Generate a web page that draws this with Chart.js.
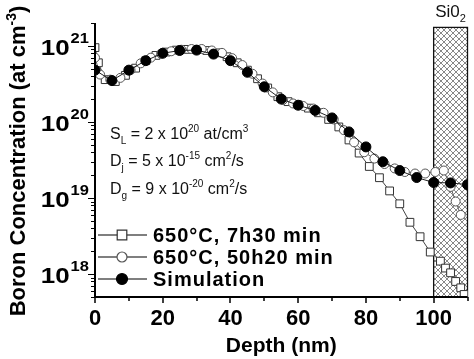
<!DOCTYPE html>
<html><head><meta charset="utf-8">
<script src="https://cdn.jsdelivr.net/npm/chart.js@4/dist/chart.umd.min.js"></script>
<style>html,body{margin:0;padding:0;background:#fff}</style>
</head><body>
<canvas id="c" width="474" height="359"></canvas>
<script>
// ---- data ----
const depthSim = [0,5,10,15,20,25,30,35,40,45,50,55,60,65,70,75,80,85,90,95,100,105,110];
const concSim  = [4.8e20,3.5e20,4.8e20,6.4e20,8.0e20,8.7e20,8.8e20,7.8e20,6.4e20,4.5e20,2.9e20,2.0e20,1.66e20,1.42e20,1.13e20,7.4e19,4.7e19,3.0e19,2.3e19,1.86e19,1.6e19,1.58e19,1.5e19];

const depth7h  = [0,1,3,6,9,12,15,18,21,24,27,30,33,36,39,42,45,48,51,54,57,60,63,66,69,72,75,78,81,84,87,90,93,96,99,102,103.5,105,106.5,108,109];
const conc7h   = [9.5e20,6.0e20,3.6e20,3.4e20,4.1e20,5.1e20,6.4e20,7.5e20,8.3e20,8.8e20,9.0e20,9.0e20,8.7e20,8.1e20,7.2e20,6.0e20,4.8e20,3.7e20,2.8e20,2.15e20,1.85e20,1.68e20,1.52e20,1.32e20,1.08e20,8.6e19,5.8e19,3.9e19,2.6e19,1.85e19,1.24e19,8.4e18,4.8e18,3.1e18,1.95e18,1.48e18,1.2e18,1.04e18,8.0e17,6.6e17,5.4e17];

const depth50h = [0,1.5,4.5,7.5,10.5,13.5,16.5,19.5,22.5,25.5,28.5,31.5,34.5,37.5,40.5,43.5,46.5,49.5,52.5,55.5,58.5,61.5,64.5,67.5,70.5,73.5,76.5,79.5,82.5,85.5,88.5,91.5,94.5,97.5,100.5,103,105,106.5,108];
const conc50h  = [7.0e20,4.2e20,3.6e20,3.8e20,4.8e20,5.9e20,7.0e20,7.9e20,8.5e20,8.9e20,9.1e20,9.1e20,8.7e20,8.1e20,6.9e20,5.6e20,4.3e20,3.2e20,2.45e20,1.95e20,1.75e20,1.62e20,1.5e20,1.32e20,1.08e20,7.8e19,5.4e19,4.0e19,3.3e19,2.8e19,2.45e19,2.2e19,2.1e19,2.1e19,2.2e19,2.3e19,1.4e19,9e18,6e18];

const xTickValues = [0,20,40,60,80,100];
const xMinorValues = [10,30,50,70,90,110];
const yDecadeExponents = [18,19,20,21];
const seriesLabels = ["650°C, 7h30 min","650°C, 50h20 min","Simulation"];
const xTitle = "Depth (nm)";
const yTitleMain = "Boron Concentration (at cm";
const yTitleSup = "-3";
const oxideFrom = 100, oxideTo = 110, oxideTop = 1.75e21;

const toPts = (xs, ys) => xs.map((x,i)=>({x, y: ys[i]}));

function richWidth(ctx, parts, size, weight, family){
  let w=0;
  for(const [t,k] of parts){
    const s = k==='n'?size:Math.round(size*0.62);
    ctx.font = `${weight} ${s}px ${family}`;
    w += ctx.measureText(t).width;
  }
  return w;
}
function drawRich(ctx, x, y, parts, size, weight, family){
  let cx=x;
  for(const [t,k] of parts){
    const s = k==='n'?size:Math.round(size*0.62);
    ctx.font = `${weight} ${s}px ${family}`;
    const dy = k==='sup'? -size*0.42 : k==='sub'? size*0.3 : 0;
    ctx.fillText(t, cx, y+dy);
    cx += ctx.measureText(t).width;
  }
  return cx;
}

const FAM = '"Liberation Sans", Arial, sans-serif';

function makeHatch(ctx){
  const n=6;
  const p = document.createElement('canvas');
  p.width=n; p.height=n;
  const g=p.getContext('2d');
  g.fillStyle='#fff'; g.fillRect(0,0,n,n);
  g.strokeStyle='#555'; g.lineWidth=0.7;
  g.beginPath();
  g.moveTo(-1,-1); g.lineTo(n+1,n+1);
  g.moveTo(n+1,-1); g.lineTo(-1,n+1);
  g.stroke();
  return ctx.createPattern(p,'repeat');
}

const oxidePlugin = {
  id:'oxide',
  beforeDatasetsDraw(chart){
    const {ctx, scales:{x,y}} = chart;
    const x0=x.getPixelForValue(oxideFrom), x1=x.getPixelForValue(oxideTo);
    const y0=y.getPixelForValue(oxideTop), y1=chart.chartArea.bottom;
    ctx.save();
    ctx.fillStyle=makeHatch(ctx);
    ctx.fillRect(x0,y0,x1-x0,y1-y0);
    ctx.strokeStyle='#111'; ctx.lineWidth=1.3;
    ctx.strokeRect(x0,y0,x1-x0,y1-y0);
    ctx.restore();
  }
};

const decorPlugin = {
  id:'decor',
  afterDraw(chart){
    const {ctx, chartArea:a, scales:{x,y}} = chart;
    ctx.save();
    ctx.fillStyle='#000'; ctx.strokeStyle='#000';
    ctx.lineWidth=2;
    ctx.beginPath();
    ctx.moveTo(a.left, a.top); ctx.lineTo(a.left, a.bottom+1);
    ctx.moveTo(a.left-1, a.bottom); ctx.lineTo(a.right, a.bottom);
    ctx.stroke();
    ctx.lineWidth=1.5;
    ctx.beginPath();
    for(const v of xTickValues){ const px=Math.round(x.getPixelForValue(v)); ctx.moveTo(px,a.bottom); ctx.lineTo(px,a.bottom+6); }
    for(const v of xMinorValues){ const px=Math.round(x.getPixelForValue(v)); ctx.moveTo(px,a.bottom); ctx.lineTo(px,a.bottom+4); }
    ctx.stroke();
    ctx.beginPath();
    for(let e=17;e<=21;e++){
      for(let m=1;m<=9;m++){
        const v=m*Math.pow(10,e);
        if(v<y.min||v>y.max) continue;
        const py=Math.round(y.getPixelForValue(v))+0.5;
        const len = m===1?7:4;
        ctx.moveTo(a.left-len,py); ctx.lineTo(a.left,py);
      }
    }
    ctx.lineWidth=1.2; ctx.stroke();
    // x tick labels
    ctx.font=`bold 22px ${FAM}`; ctx.textAlign='center'; ctx.textBaseline='alphabetic';
    for(const v of xTickValues){ ctx.fillText(String(v), x.getPixelForValue(v), a.bottom+28); }
    // y tick labels 10^n (slightly widened like the reference)
    ctx.textAlign='left';
    const sX=1.18;
    for(const e of yDecadeExponents){
      const py=y.getPixelForValue(Math.pow(10,e));
      ctx.font=`bold 22px ${FAM}`;
      const w1=ctx.measureText('10').width*sX;
      ctx.font=`bold 14px ${FAM}`;
      const w2=ctx.measureText(String(e)).width*sX;
      const right=a.left-6;
      const sx=right-w2-w1-1;
      ctx.save(); ctx.translate(sx, py+9); ctx.scale(sX,1);
      ctx.font=`bold 22px ${FAM}`; ctx.fillText('10', 0, 0);
      ctx.restore();
      ctx.save(); ctx.translate(sx+w1+1, py-3); ctx.scale(sX,1);
      ctx.font=`bold 14px ${FAM}`; ctx.fillText(String(e), 0, 0);
      ctx.restore();
    }
    // x title
    ctx.textAlign='center';
    ctx.font=`bold 21px ${FAM}`;
    ctx.fillText(xTitle, (a.left+a.right)/2, 352);
    // y title
    ctx.save();
    ctx.translate(25, 161);
    ctx.rotate(-Math.PI/2);
    ctx.textAlign='left';
    const yParts=[[yTitleMain,'n'],[yTitleSup,'sup'],[')','n']];
    const tw=richWidth(ctx,yParts,22,'bold',FAM);
    drawRich(ctx,-tw/2,0,yParts,22,'bold',FAM);
    ctx.restore();
    // annotation text
    ctx.textAlign='left'; ctx.fillStyle='#111';
    drawRich(ctx,110,139,[['S','n'],['L','sub'],[' = 2 x 10','n'],['20','sup'],[' at/cm','n'],['3','sup']],16,'normal',FAM);
    drawRich(ctx,110,166,[['D','n'],['j','sub'],[' = 5 x 10','n'],['-15','sup'],[' cm','n'],['2','sup'],['/s','n']],16,'normal',FAM);
    drawRich(ctx,110,194,[['D','n'],['g','sub'],[' = 9 x 10','n'],['-20','sup'],[' cm','n'],['2','sup'],['/s','n']],16,'normal',FAM);
    // SiO2 label
    const sParts=[['Si0','n'],['2','sub']];
    const sw=richWidth(ctx,sParts,17,'normal',FAM);
    const cx=(x.getPixelForValue(oxideFrom)+x.getPixelForValue(oxideTo))/2;
    drawRich(ctx,cx-sw/2,17,sParts,17,'normal',FAM);
    // legend
    const ly=[235,257,279];
    chart.data.datasets.forEach((ds,i)=>{
      const yy=ly[i];
      ctx.strokeStyle='#555'; ctx.lineWidth=1.5;
      ctx.beginPath(); ctx.moveTo(98,yy); ctx.lineTo(147,yy); ctx.stroke();
      drawMarker(ctx, ds.pointStyle, 122, yy, ds.pointRadius+0.5, ds.pointBackgroundColor, ds.pointBorderColor);
      ctx.fillStyle='#000'; ctx.textAlign='left';
      ctx.font=`bold 20px ${FAM}`;
      ctx.letterSpacing='1px';
      ctx.fillText(ds.label, 153, yy+7);
      ctx.letterSpacing='0px';
    });
    ctx.restore();
  }
};
function drawMarker(ctx, style, px, py, r, fill, stroke){
  ctx.save();
  ctx.fillStyle=fill; ctx.strokeStyle=stroke; ctx.lineWidth=1.2;
  ctx.beginPath();
  if(style==='rect'){ const s=r*1.6; ctx.rect(px-s/2,py-s/2,s,s); }
  else ctx.arc(px,py,r,0,Math.PI*2);
  ctx.fill(); ctx.stroke();
  ctx.restore();
}

new Chart(document.getElementById('c'), {
  type:'line',
  data:{
    datasets:[
      {label:seriesLabels[0], data:toPts(depth7h,conc7h), order:2,
       borderColor:'#444', borderWidth:1, pointStyle:'rect', pointRadius:5.5,
       pointBackgroundColor:'#fff', pointBorderColor:'#333', pointBorderWidth:1, tension:0},
      {label:seriesLabels[1], data:toPts(depth50h,conc50h), order:1,
       borderColor:'#666', borderWidth:1, pointStyle:'circle', pointRadius:4.5,
       pointBackgroundColor:'#fff', pointBorderColor:'#555', pointBorderWidth:1, tension:0},
      {label:seriesLabels[2], data:toPts(depthSim,concSim), order:0,
       borderColor:'#222', borderWidth:1, pointStyle:'circle', pointRadius:5,
       pointBackgroundColor:'#000', pointBorderColor:'#000', pointBorderWidth:1, tension:0}
    ]
  },
  options:{
    responsive:false, animation:false, events:[],
    layout:{padding:{top:23,right:4,left:0,bottom:0}},
    plugins:{legend:{display:false}, tooltip:{enabled:false}},
    scales:{
      x:{type:'linear', min:0, max:110, ticks:{display:false}, grid:{display:false}, border:{display:false},
         afterFit(s){ s.height=62; }},
      y:{type:'logarithmic', min:5e17, max:2e21, ticks:{display:false}, grid:{display:false}, border:{display:false},
         afterFit(s){ s.width=95; }}
    }
  },
  plugins:[oxidePlugin, decorPlugin]
});
</script>
</body></html>
